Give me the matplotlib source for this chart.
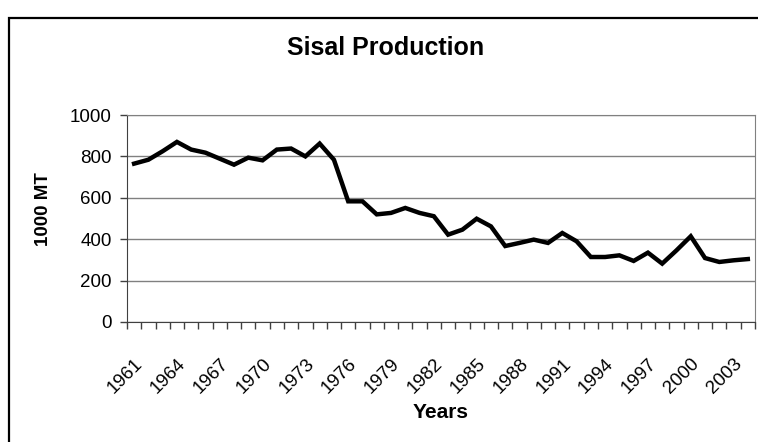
import matplotlib.pyplot as plt
import matplotlib.patches as patches
import matplotlib.transforms as mtransforms
import numpy as np

plt.rcParams['font.family'] = ['Liberation Sans', 'DejaVu Sans']

years = list(range(1961, 2005))
production = [765, 784, 825, 870, 833, 818, 789, 760, 794, 781,
              833, 838, 800, 862, 784, 583, 583, 520, 527, 551,
              527, 511, 422, 446, 499, 462, 367, 382, 398, 382,
              430, 390, 314, 314, 322, 295, 335, 282, 346, 414,
              309, 290, 298, 304]
label_years = years[::3]

fig = plt.figure(figsize=(7.58, 4.42), dpi=100)
ax = fig.add_axes([0.1675, 0.2715, 0.8285, 0.4683])

x = np.arange(len(years))
ax.plot(x, production, color='black', lw=3.2, solid_joinstyle='miter')

ax.set_xlim(-0.5, len(years) - 0.5)
ax.set_ylim(0, 1000)
ax.set_yticks(range(0, 1001, 200))
ax.yaxis.grid(True, color='#808080', lw=1)
ax.set_axisbelow(True)

# category boundaries get the tick marks, labels sit on every third year
ax.set_xticks(np.arange(-0.5, len(years), 1), minor=True)
ax.set_xticks(x[::3])
ax.set_xticklabels([str(y) for y in label_years], rotation=45, ha='right',
                   va='top', rotation_mode='anchor')
shift = mtransforms.ScaledTranslation(-6 / 100, 0, fig.dpi_scale_trans)
for lab in ax.get_xticklabels():
    lab.set_transform(lab.get_transform() + shift)
ax.tick_params(axis='x', which='major', length=0, pad=24, labelsize=13.5)
ax.tick_params(axis='x', which='minor', length=5, width=1, color='#404040')
ax.tick_params(axis='y', length=5, width=1, color='#404040', labelsize=13.5, pad=6)

for s in ['top', 'right']:
    ax.spines[s].set_color('#808080')
for s in ['left', 'bottom']:
    ax.spines[s].set_color('#404040')

ax.set_ylabel('1000 MT', fontsize=13.5, fontweight='bold',
              family=['Liberation Sans Narrow', 'Liberation Sans'])
ax.yaxis.set_label_coords(-0.119, 0.546)
ax.set_xlabel('Years', fontsize=15, fontweight='bold', labelpad=4)

fig.text(0.509, 0.891, 'Sisal Production', fontsize=18, fontweight='bold',
         ha='center', va='center')

fig.patches.append(patches.Rectangle((0.0125, -0.05), 1.1, 0.009 + 1.0,
                                     transform=fig.transFigure, fill=False,
                                     edgecolor='black', lw=1.6))

fig.savefig('out.png', dpi=100)
